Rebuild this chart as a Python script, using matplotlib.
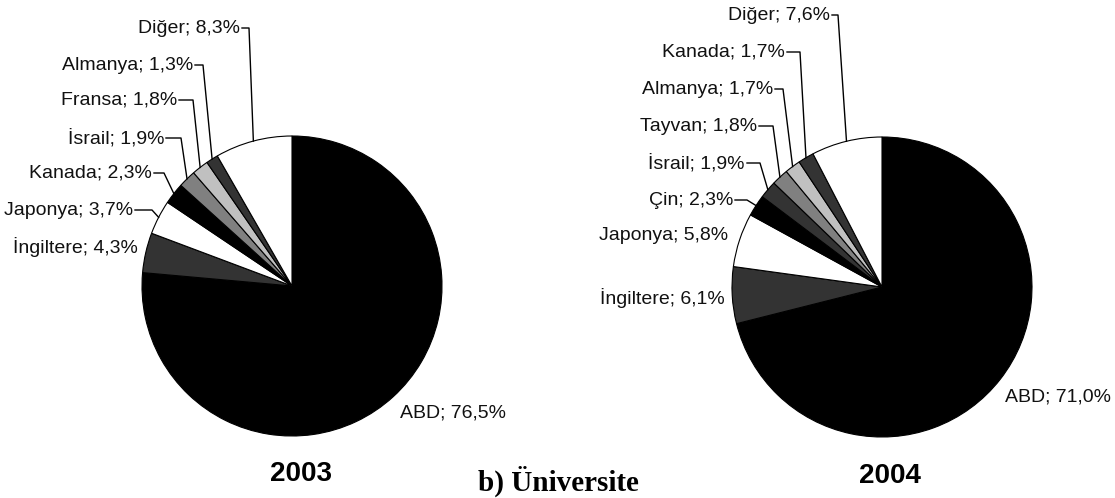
import numpy as np
import matplotlib
matplotlib.use("Agg")
from matplotlib import pyplot as plt

W, H = 1115, 498

# 2003 data (clockwise from the top)
labels_2003 = ["ABD", "İngiltere", "Japonya", "Kanada", "İsrail", "Fransa", "Almanya", "Diğer"]
values_2003 = [76.5, 4.3, 3.7, 2.3, 1.9, 1.8, 1.3, 8.3]
colors_2003 = ["#000000", "#333333", "#ffffff", "#000000", "#808080", "#c0c0c0", "#333333", "#ffffff"]

# 2004 data
labels_2004 = ["ABD", "İngiltere", "Japonya", "Çin", "İsrail", "Tayvan", "Almanya", "Kanada", "Diğer"]
values_2004 = [71.0, 6.1, 5.8, 2.3, 1.9, 1.8, 1.7, 1.7, 7.6]
colors_2004 = ["#000000", "#333333", "#ffffff", "#000000", "#333333", "#808080", "#c0c0c0", "#333333", "#ffffff"]

# label layout in pixels: (x, y_from_top, align, leader elbow x or None)
layout_2003 = [
    (400, 413, "left", None),
    (138, 247, "right", None),
    (133, 210, "right", 152),
    (152, 173, "right", 164),
    (164, 138, "right", 181),
    (177, 100, "right", 193),
    (193, 65, "right", 203),
    (240, 28, "right", 249),
]
layout_2004 = [
    (1005, 397, "left", None),
    (725, 298, "right", None),
    (728, 235, "right", None),
    (733, 200, "right", 747),
    (745, 163, "right", 760),
    (757, 126, "right", 773),
    (773, 89, "right", 783),
    (785, 52, "right", 800),
    (830, 15, "right", 838),
]


def fmt(v):
    return ("%.1f" % v).replace(".", ",") + "%"


def draw_pie(ax, center, radius, labels, values, colors, layout):
    cx, cy = center
    wedges, _ = ax.pie(values, colors=colors, startangle=90, counterclock=False,
                       center=(cx, H - cy), radius=radius,
                       wedgeprops=dict(edgecolor="black", linewidth=0.8))
    for w, lab, val, (tx, ty, ha, elbow) in zip(wedges, labels, values, layout):
        ax.text(tx, H - ty, "%s; %s" % (lab, fmt(val)), ha=ha, va="center",
                fontsize=14, family="Liberation Sans", color="#111111")
        if elbow is None:
            continue
        ang = np.deg2rad((w.theta1 + w.theta2) / 2)
        ex = cx + radius * np.cos(ang)
        ey = (H - cy) + radius * np.sin(ang)
        ax.plot([tx + 2, elbow, ex], [H - ty, H - ty, ey], color="black", linewidth=1)


fig = plt.figure(figsize=(W / 100, H / 100), dpi=100)
ax = fig.add_axes([0, 0, 1, 1])

draw_pie(ax, (292, 286), 150, labels_2003, values_2003, colors_2003, layout_2003)
draw_pie(ax, (882, 287), 150, labels_2004, values_2004, colors_2004, layout_2004)

ax.set_xlim(0, W)
ax.set_ylim(0, H)
ax.set_aspect("auto")
ax.axis("off")

ax.text(301, H - 474, "2003", ha="center", va="center", fontsize=20,
        fontweight="bold", family="Liberation Sans")
ax.text(890, H - 476, "2004", ha="center", va="center", fontsize=20,
        fontweight="bold", family="Liberation Sans")
ax.text(558, H - 481, "b) Üniversite", ha="center", va="center", fontsize=21,
        fontweight="bold", family="Liberation Serif")

plt.savefig("out.png", dpi=100)
plt.close()
